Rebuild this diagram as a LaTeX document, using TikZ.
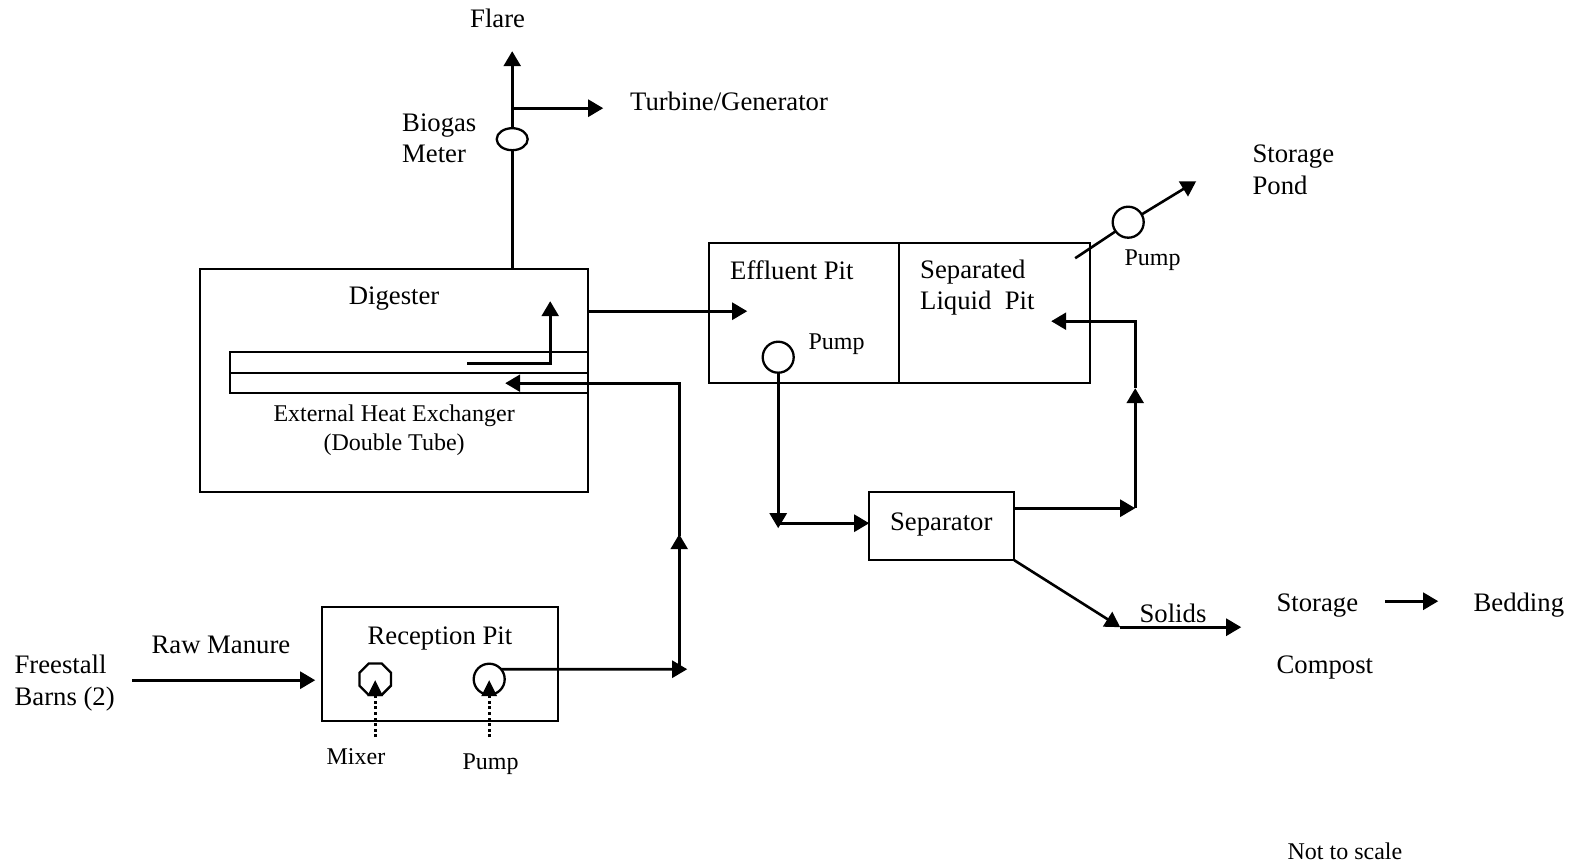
\documentclass[tikz,border=0pt]{standalone}
\usepackage{fontspec}
\setmainfont{Liberation Serif}
\usetikzlibrary{arrows.meta,shapes.geometric}
\tikzset{
  every picture/.style={x=1pt,y=-1pt},
  flowbox/.style={draw=black,line width=2.3pt,rectangle,inner sep=0pt,outer sep=0pt},
  roundpart/.style={draw=black,fill=white,line width=2.3pt,circle,inner sep=0pt,outer sep=0pt,minimum size=31pt},
  octpart/.style={draw=black,fill=white,line width=2.3pt,regular polygon,regular polygon sides=8,inner sep=0pt,outer sep=0pt,minimum size=34pt},
  meterpart/.style={draw=black,fill=white,line width=2.3pt,ellipse,inner sep=0pt,outer sep=0pt,minimum width=31pt,minimum height=22pt},
  pipe/.style={draw=black,line width=2.6pt,line join=miter},
  flow/.style={pipe,-{Triangle[length=15pt,width=17pt]}},
  sensor/.style={draw=black,line width=3pt,dash pattern=on 2.8pt off 2.8pt},
  sensorhead/.style={draw=none,fill=black},
  bigtext/.style={anchor=base west,inner sep=0pt,outer sep=0pt,font=\fontsize{26.7}{26.7}\selectfont},
  smalltext/.style={anchor=base west,inner sep=0pt,outer sep=0pt,font=\fontsize{24}{24}\selectfont},
  midtext/.style={anchor=base,inner sep=0pt,outer sep=0pt,font=\fontsize{26.7}{26.7}\selectfont},
  midsmall/.style={anchor=base,inner sep=0pt,outer sep=0pt,font=\fontsize{24}{24}\selectfont},
}
\begin{document}
\begin{tikzpicture}
\useasboundingbox (-0.2,-0.2) rectangle (1569.8,866.8);
% boxes
\node[flowbox,minimum width=388pt,minimum height=223pt] (digester) at (394,380.5) {};
\node[flowbox,minimum width=358pt,minimum height=21pt] (tubeA) at (409,362.5) {};
\node[flowbox,minimum width=358pt,minimum height=20pt] (tubeB) at (409,383) {};
\node[flowbox,minimum width=236pt,minimum height=114pt] (reception) at (440,664) {};
\node[flowbox,minimum width=190pt,minimum height=140pt] (effluent) at (804,313) {};
\node[flowbox,minimum width=191pt,minimum height=140pt] (liquid) at (994.5,313) {};
\node[flowbox,minimum width=145pt,minimum height=68pt] (separator) at (941.5,526) {};
% round parts
\node[octpart] (mixer) at (375,679) {};
\node[roundpart] (rpump) at (489,679) {};
\node[roundpart] (epump) at (778,357) {};
\node[roundpart] (spump) at (1128,222) {};
\node[meterpart] (meter) at (512,139) {};
% free ends
\coordinate (flareTip) at (512,51);
\coordinate (teeG) at (512,108);
\coordinate (turbTip) at (603,108);
\coordinate (digTop) at (512,269);
\coordinate (innerStart) at (467,363);
\coordinate (innerBend) at (550,363);
\coordinate (innerTip) at (550,301);
\coordinate (digOut) at (588,311);
\coordinate (effIn) at (747,311);
\coordinate (retTip) at (505,383);
\coordinate (retBend) at (679,383);
\coordinate (upMid) at (679,534);
\coordinate (pumpTee) at (679,669);
\coordinate (pumpTip) at (687,669);
\coordinate (rawStart) at (132,680);
\coordinate (rawTip) at (315,680);
\coordinate (epumpTip) at (778,528);
\coordinate (sepInStart) at (778,523);
\coordinate (sepIn) at (869,523);
\coordinate (sepOut) at (1014,508);
\coordinate (sepOutTip) at (1135,508);
\coordinate (liqBendLow) at (1135,388);
\coordinate (liqBend) at (1135,321);
\coordinate (liqTip) at (1051,321);
\coordinate (solidTip) at (1120,627);
\coordinate (solidEnd) at (1241,627);
\coordinate (spumpStart) at (1075,258);
\coordinate (spumpTip) at (1196,181);
\coordinate (bedStart) at (1385,601);
\coordinate (bedTip) at (1438,601);
\coordinate (mixDot) at (375,737);
\coordinate (pumpDot) at (489,737);
% connectors
\draw[pipe] (digTop) -- (meter.south);
\draw[flow] (meter.north) -- (flareTip);
\draw[flow] (teeG) -- (turbTip);
\draw[flow] (innerStart) -- (innerBend) -- (innerTip);
\draw[flow] (digOut) -- (effIn);
\draw[flow] (retBend) -- (retTip);
\draw[flow] (pumpTee) -- (upMid);
\draw[pipe,line cap=rect] (upMid) -- (retBend);
\draw[flow] (rpump.40) -- (pumpTip);
\draw[flow] (rawStart) -- (rawTip);
\draw[flow] (epump.south) -- (epumpTip);
\draw[flow] (sepInStart) -- (sepIn);
\draw[flow] (sepOut) -- (sepOutTip);
\draw[flow] (sepOutTip) -- (liqBendLow);
\draw[flow] (liqBendLow) -- (liqBend) -- (liqTip);
\draw[flow] (separator.south east) -- (solidTip);
\draw[flow] (solidTip) -- (solidEnd);
\draw[pipe] (spumpStart) -- (spump.216);
\draw[flow] (spump.30) -- (spumpTip);
\draw[flow] (bedStart) -- (bedTip);
% dotted probes
\draw[sensor] (mixDot) -- (mixer.south);
\draw[sensor] (pumpDot) -- (rpump.south);
\fill[sensorhead] (375,680) -- (367,696) -- (383,696) -- cycle;
\fill[sensorhead] (489,680) -- (481,696) -- (497,696) -- cycle;
% labels
\node[midtext] (tFlare) at (497.4,27.6) {Flare};
\node[bigtext] (tTurb) at (630,110.4) {Turbine/Generator};
\node[bigtext] (tBio) at (402,131.4) {Biogas};
\node[bigtext] (tMeter) at (402,162.4) {Meter};
\node[midtext] (tDig) at (393.9,304.4) {Digester};
\node[midsmall] (tExt) at (393.9,421.4) {External Heat Exchanger};
\node[midsmall] (tDouble) at (393.9,450) {(Double Tube)};
\node[bigtext] (tEff) at (730,279.4) {Effluent Pit};
\node[smalltext] (tPumpE) at (808.4,349.4) {Pump};
\node[bigtext] (tSep) at (920,278.4) {Separated};
\node[bigtext] (tLiq) at (920,309.4) {Liquid\ \ Pit};
\node[smalltext] (tPumpS) at (1124.4,265.4) {Pump};
\node[bigtext] (tSto) at (1252.4,162.4) {Storage};
\node[bigtext] (tPond) at (1252.4,194.4) {Pond};
\node[bigtext] (tSepr) at (889.9,529.8) {Separator};
\node[bigtext] (tSol) at (1139.4,621.8) {Solids};
\node[bigtext] (tStor) at (1276.4,610.8) {Storage};
\node[bigtext] (tComp) at (1276.4,672.8) {Compost};
\node[bigtext] (tBed) at (1473.4,610.8) {Bedding};
\node[bigtext] (tFree) at (14.4,672.8) {Freestall};
\node[bigtext] (tBarn) at (14.4,704.8) {Barns (2)};
\node[bigtext] (tRaw) at (151.4,652.8) {Raw Manure};
\node[bigtext] (tRec) at (367.4,643.8) {Reception Pit};
\node[smalltext] (tMix) at (326.4,764) {Mixer};
\node[smalltext] (tPumpR) at (462.4,769) {Pump};
\node[smalltext] (tScale) at (1287.4,859) {Not to scale};
\end{tikzpicture}
\end{document}
